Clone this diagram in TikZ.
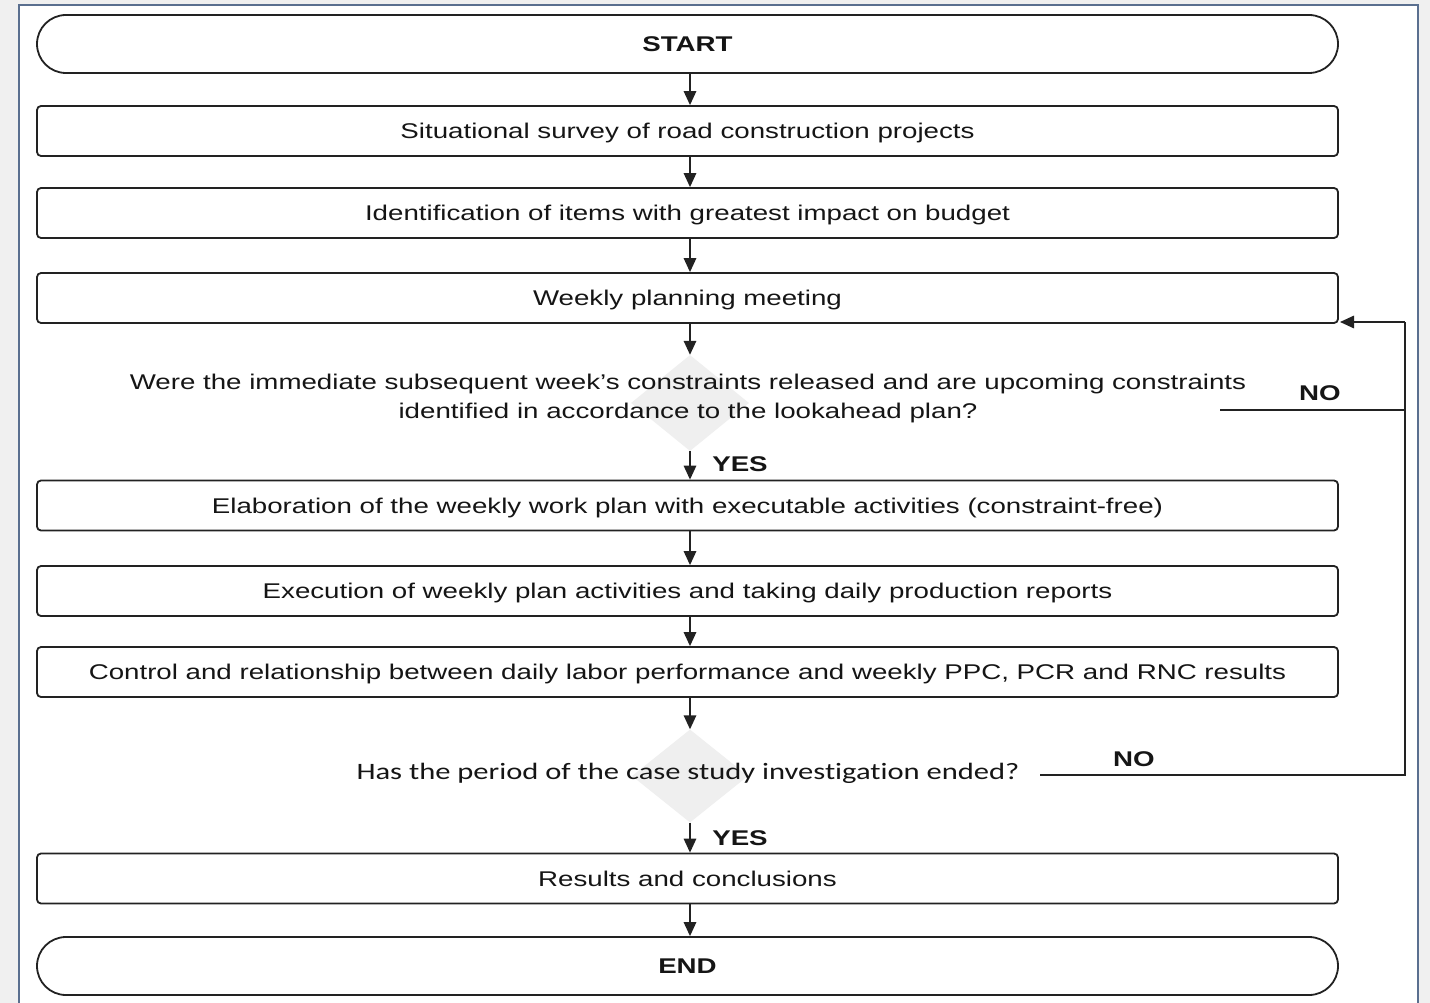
\documentclass[tikz,border=0pt]{standalone}
\usepackage{fontspec}
\setmainfont{Liberation Sans}
\newfontfamily\calib[Ligatures=NoCommon]{Carlito}
\usetikzlibrary{arrows.meta,shapes.geometric}
\definecolor{linec}{HTML}{222222}
\definecolor{txtc}{HTML}{151515}
\definecolor{decfill}{HTML}{EFEFEF}
\definecolor{framec}{HTML}{5A6F8F}
\definecolor{bgc}{HTML}{F0F0F0}
\newcommand\sx[1]{\scalebox{1.3}[1]{#1}}
\begin{document}
\begin{tikzpicture}[x=1pt,y=-1pt,
  box/.style={draw=linec, line width=1.8pt, rounded corners=4pt, minimum width=1301pt,
    minimum height=50pt, inner sep=0pt, text=txtc, text height=20pt, text depth=4.5pt,
    font=\fontsize{21.3}{29}\selectfont},
  term/.style={box, rounded corners=29pt, minimum height=58pt,
    font=\bfseries\fontsize{21.3}{29}\selectfont},
  dec/.style={diamond, fill=decfill, inner sep=0pt},
  qtext/.style={inner sep=0pt, text=txtc, font=\fontsize{21.3}{29}\selectfont},
  arr/.style={draw=linec, line width=1.6pt, -{Triangle[length=14pt,width=12.5pt]}},
  plain/.style={draw=linec, line width=1.6pt},
  lbl/.style={inner sep=0pt, text=txtc, font=\bfseries\fontsize{21.3}{29}\selectfont}]
\useasboundingbox (0,0) rectangle (1430,1003);
\fill[bgc] (0,0) rectangle (1430,1003);
\fill[white] (19,5) rectangle (1418,1003);
\draw[framec, line width=2pt] (19,1003) -- (19,5) -- (1418,5) -- (1418,1003);

% nodes
\node[term] (start) at (687.5,44) {\sx{START}};
\node[box] (b1) at (687.5,131) {\sx{Situational survey of road construction projects}};
\node[box] (b2) at (687.5,213) {\sx{Identification of items with greatest impact on budget}};
\node[box] (b3) at (687.5,298) {\sx{Weekly planning meeting}};
\node[dec, minimum width=118pt, minimum height=96pt] (d1) at (690,403) {};
\node[qtext] (q1) at (688,398) {\sx{\begin{tabular}{@{}c@{}}Were the immediate subsequent week’s constraints released and are upcoming constraints\\identified in accordance to the lookahead plan?\end{tabular}}};
\node[box] (b4) at (687.5,505.5) {\sx{Elaboration of the weekly work plan with executable activities (constraint-free)}};
\node[box] (b5) at (687.5,591) {\sx{Execution of weekly plan activities and taking daily production reports}};
\node[box] (b6) at (687.5,672) {\sx{Control and relationship between daily labor performance and weekly PPC, PCR and RNC results}};
\node[dec, minimum width=116pt, minimum height=93pt] (d2) at (690,776) {};
\node[qtext, font=\calib\fontsize{23.5}{29}\selectfont] (q2) at (688,773) {\sx{Has the period of the case study investigation ended?}};
\node[box] (b7) at (687.5,878.5) {\sx{Results and conclusions}};
\node[term] (end) at (687.5,966) {\sx{END}};

% labels
\node[lbl] (y1) at (740,464) {\sx{YES}};
\node[lbl] (y2) at (740,838) {\sx{YES}};
\node[lbl] (no1) at (1320,393) {\sx{NO}};
\node[lbl] (no2) at (1134,759) {\sx{NO}};

% connectors
\draw[arr] (start.south -| d1.north) -- (b1.north -| d1.north);
\draw[arr] (b1.south -| d1.north) -- (b2.north -| d1.north);
\draw[arr] (b2.south -| d1.north) -- (b3.north -| d1.north);
\draw[arr] (b3.south -| d1.north) -- (d1.north);
\draw[arr] (d1.south) -- (b4.north -| d1.south);
\draw[arr] (b4.south -| d1.north) -- (b5.north -| d1.north);
\draw[arr] (b5.south -| d1.north) -- (b6.north -| d1.north);
\draw[arr] (b6.south -| d2.north) -- (d2.north);
\draw[arr] (d2.south) -- (b7.north -| d2.south);
\draw[arr] (b7.south -| d2.north) -- (end.north -| d2.north);

% NO loops
\coordinate (n1) at (1220,410);
\coordinate (c1) at (1405,410);
\coordinate (n2) at (1040,775);
\coordinate (c2) at (1405,775);
\coordinate (c3) at (1405,322);
\coordinate (t3) at (1340,322);
\draw[plain] (n1) -- (c1);
\draw[plain] (n2) -- (c2) -- (c3);
\draw[arr] (c3) -- (t3);
\end{tikzpicture}
\end{document}
